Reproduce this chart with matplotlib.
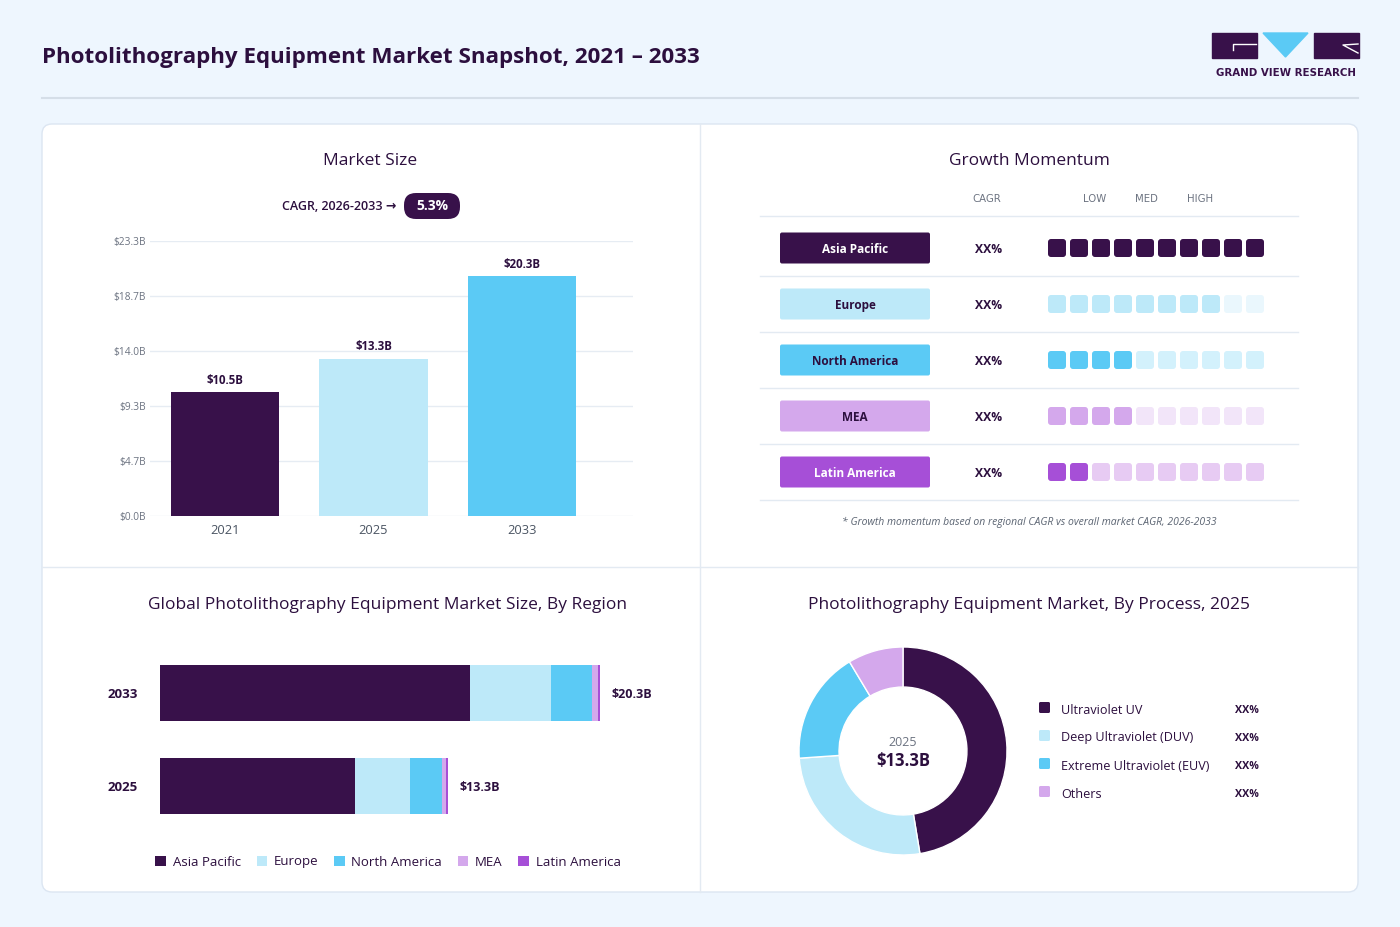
import matplotlib
matplotlib.use("Agg")
import matplotlib.pyplot as plt
from matplotlib.patches import FancyBboxPatch, Polygon, Patch

plt.rcParams["font.family"] = ["Open Sans", "DejaVu Sans"]

# ---- data ----
years = ["2021", "2025", "2033"]
market_size = [10.5, 13.3, 20.3]
y_ticks = [0.0, 4.66, 9.32, 13.98, 18.64, 23.3]
y_tick_labels = ["$0.0B", "$4.7B", "$9.3B", "$14.0B", "$18.7B", "$23.3B"]
cagr_text = "5.3%"

regions = ["Asia Pacific", "Europe", "North America", "MEA", "Latin America"]
momentum = [10, 8, 4, 4, 2]
region_cagr = ["XX%", "XX%", "XX%", "XX%", "XX%"]

stack_years = ["2025", "2033"]
stack_values = {
    "Asia Pacific": [9.0, 14.3],
    "Europe": [2.55, 3.75],
    "North America": [1.45, 1.9],
    "MEA": [0.2, 0.25],
    "Latin America": [0.1, 0.1],
}
stack_totals = ["$13.3B", "$20.3B"]

processes = ["Ultraviolet UV", "Deep Ultraviolet (DUV)", "Extreme Ultraviolet (EUV)", "Others"]
process_share = [47.4, 26.5, 17.5, 8.6]
process_labels = ["XX%", "XX%", "XX%", "XX%"]

# ---- style ----
DARK = "#38114A"
TXT = "#2C0F3E"
GRAY = "#6B7280"
LINE = "#E3EAF2"
BG = "#EEF6FE"
region_colors = ["#38114A", "#BDE9F9", "#5BCAF5", "#D4A8EC", "#A64FD7"]
faded_colors = ["#38114A", "#EAF7FD", "#D3F1FC", "#F2E5F9", "#E7CBF3"]
label_text_colors = ["white", TXT, TXT, TXT, "white"]
process_colors = ["#38114A", "#BDE9F9", "#5BCAF5", "#D4A8EC"]

W, H = 1400, 927
fig = plt.figure(figsize=(W / 100, H / 100), dpi=100, facecolor=BG)


def px_axes(x0, y0, x1, y1):
    return fig.add_axes([x0 / W, 1 - y1 / H, (x1 - x0) / W, (y1 - y0) / H])


# background layer in pixel coordinates
bg = fig.add_axes([0, 0, 1, 1])
bg.set_xlim(0, W)
bg.set_ylim(H, 0)
bg.axis("off")
bg.set_facecolor(BG)

bg.text(42, 57, "Photolithography Equipment Market Snapshot, 2021 – 2033",
        fontsize=16.1, fontweight="bold", color=TXT, va="center", ha="left")
bg.plot([42, 1358], [98, 98], color="#D5DEE8", lw=1.5)

# logo
bg.add_patch(plt.Rectangle((1212, 33), 45, 25, color=DARK))
bg.plot([1256, 1233, 1233], [44, 44, 50], color="white", lw=1)
bg.add_patch(Polygon([(1263, 33), (1308, 33), (1285.5, 57)], closed=True, color="#5BCAF5"))
bg.add_patch(plt.Rectangle((1314, 33), 45, 25, color=DARK))
bg.plot([1358, 1343, 1358], [44, 45, 53], color="white", lw=1)
bg.text(1286, 73, "GRAND VIEW RESEARCH", fontsize=7.4, fontweight="bold", family="DejaVu Sans",
        color=DARK, ha="center", va="center")

# card
bg.add_patch(FancyBboxPatch((42, 124), 1316, 768, boxstyle="round,pad=0,rounding_size=10",
                            fc="white", ec="#DCE6F2", lw=1))
bg.plot([700, 700], [124, 892], color=LINE, lw=1)
bg.plot([42, 1358], [567, 567], color=LINE, lw=1)

# panel titles
bg.text(370, 161, "Market Size", fontsize=12.5, color=TXT, ha="center", va="center")
bg.text(1029, 161, "Growth Momentum", fontsize=12.5, color=TXT, ha="center", va="center")
bg.text(388, 605, "Global Photolithography Equipment Market Size, By Region",
        fontsize=12.5, color=TXT, ha="center", va="center")
bg.text(1029, 605, "Photolithography Equipment Market, By Process, 2025",
        fontsize=12.5, color=TXT, ha="center", va="center")

# CAGR pill
bg.text(396, 206, "CAGR, 2026-2033 →", fontsize=9, fontweight="semibold", color=TXT,
        ha="right", va="center")
bg.add_patch(FancyBboxPatch((404, 193), 56, 26, boxstyle="round,pad=0,rounding_size=12",
                            fc=DARK, ec="none"))
bg.text(432, 206, cagr_text, fontsize=10, fontweight="bold", color="white",
        ha="center", va="center")

# ---- market size bars ----
ax1 = px_axes(150, 241, 633, 516)
xpos = range(len(years))
bars = ax1.bar(xpos, market_size, width=0.73, color=["#38114A", "#BDE9F9", "#5BCAF5"],
               zorder=3)
for b, v in zip(bars, market_size):
    ax1.annotate(f"${v:.1f}B", (b.get_x() + b.get_width() / 2, v), xytext=(0, 4),
                 textcoords="offset points", ha="center", va="bottom",
                 fontsize=8.3, fontweight="bold", color=TXT)
ax1.set_xlim(-0.505, 2.747)
ax1.set_ylim(0, 23.3)
ax1.set_yticks(y_ticks)
ax1.set_yticklabels(y_tick_labels)
ax1.set_xticks(list(xpos))
ax1.set_xticklabels(years)
ax1.tick_params(axis="y", length=0, labelsize=7.3, labelcolor=GRAY, pad=3)
ax1.tick_params(axis="x", length=0, labelsize=9.3, labelcolor="#4B5563", pad=6)
ax1.grid(axis="y", color="#E6ECF3", lw=1, zorder=0)
for s in ax1.spines.values():
    s.set_visible(False)
ax1.set_facecolor("none")

# ---- growth momentum table ----
for lbl, x in zip(["CAGR", "LOW", "MED", "HIGH"], [987, 1095, 1146, 1200]):
    bg.text(x, 199, lbl, fontsize=7.3, family="DejaVu Sans", color=GRAY,
            ha="center", va="center")
bg.plot([760, 1298], [216, 216], color=LINE, lw=1)
for i, (reg, n, cg) in enumerate(zip(regions, momentum, region_cagr)):
    yc = 248 + i * 56
    bg.add_patch(FancyBboxPatch((780, yc - 15.5), 150, 31, boxstyle="round,pad=0,rounding_size=2",
                                fc=region_colors[i], ec="none"))
    bg.text(855, yc, reg, fontsize=8.5, fontweight="bold", color=label_text_colors[i],
            ha="center", va="center_baseline")
    bg.text(989, yc, cg, fontsize=8.7, fontweight="bold", color=TXT, ha="center",
            va="center_baseline")
    for k in range(10):
        c = region_colors[i] if k < n else faded_colors[i]
        bg.add_patch(FancyBboxPatch((1048 + k * 22, yc - 9), 18, 18,
                                    boxstyle="round,pad=0,rounding_size=3", fc=c, ec="none"))
    bg.plot([760, 1298], [yc + 28, yc + 28], color=LINE, lw=1)
bg.text(1029, 522, "* Growth momentum based on regional CAGR vs overall market CAGR, 2026-2033",
        fontsize=7.5, style="italic", color="#5B6472", ha="center", va="center")

# ---- stacked regional bars ----
ax2 = px_axes(160, 640, 660, 840)
left = [0.0] * len(stack_years)
ypos = list(range(len(stack_years)))
for reg, col in zip(regions, region_colors):
    vals = stack_values[reg]
    ax2.barh(ypos, vals, left=left, height=0.6, color=col, edgecolor="none", zorder=3)
    left = [l + v for l, v in zip(left, vals)]
for y, tot, lab in zip(ypos, left, stack_totals):
    ax2.annotate(lab, (tot, y), xytext=(8, 0), textcoords="offset points",
                 ha="left", va="center_baseline", fontsize=9, fontweight="bold", color=TXT)
ax2.set_xlim(0, 23.07)
ax2.set_ylim(-0.581, 1.570)
ax2.set_yticks(ypos)
ax2.set_yticklabels(stack_years)
ax2.set_xticks([])
ax2.tick_params(axis="y", length=0, labelsize=9.5, pad=16)
for t in ax2.get_yticklabels():
    t.set_fontweight("bold")
    t.set_color(TXT)
for s in ax2.spines.values():
    s.set_visible(False)
ax2.set_facecolor("none")
handles = [Patch(facecolor=c, edgecolor="none", label=r) for r, c in zip(regions, region_colors)]
fig.legend(handles=handles, loc="center", bbox_to_anchor=(388 / W, 1 - 862 / H), ncol=5,
           frameon=False, fontsize=9.5, handlelength=0.8, handleheight=0.8,
           handletextpad=0.5, columnspacing=1.2, labelcolor=TXT)

# ---- donut ----
ax3 = px_axes(799, 647, 1007, 855)
ax3.pie(process_share, colors=process_colors, startangle=90, counterclock=False, radius=1,
        wedgeprops=dict(width=0.385, edgecolor="white", linewidth=1))
ax3.set_xlim(-1, 1)
ax3.set_ylim(-1, 1)
ax3.set_aspect("equal")
ax3.text(0, 0.08, "2025", fontsize=9, color=GRAY, ha="center", va="center")
ax3.text(0, -0.1, "$13.3B", fontsize=12, fontweight="bold", color=TXT, ha="center", va="center")
for i, (p, lab) in enumerate(zip(processes, process_labels)):
    yc = 708 + i * 28
    bg.add_patch(FancyBboxPatch((1039, yc - 6), 11, 11, boxstyle="round,pad=0,rounding_size=1.5",
                                fc=process_colors[i], ec="none"))
    bg.text(1061, yc + 2, p, fontsize=9.1, color=TXT, ha="left", va="center")
    bg.text(1259, yc + 1, lab, fontsize=7.7, fontweight="bold", color=TXT, ha="right",
            va="center_baseline")

fig.savefig("out.png", dpi=100, facecolor=BG)
